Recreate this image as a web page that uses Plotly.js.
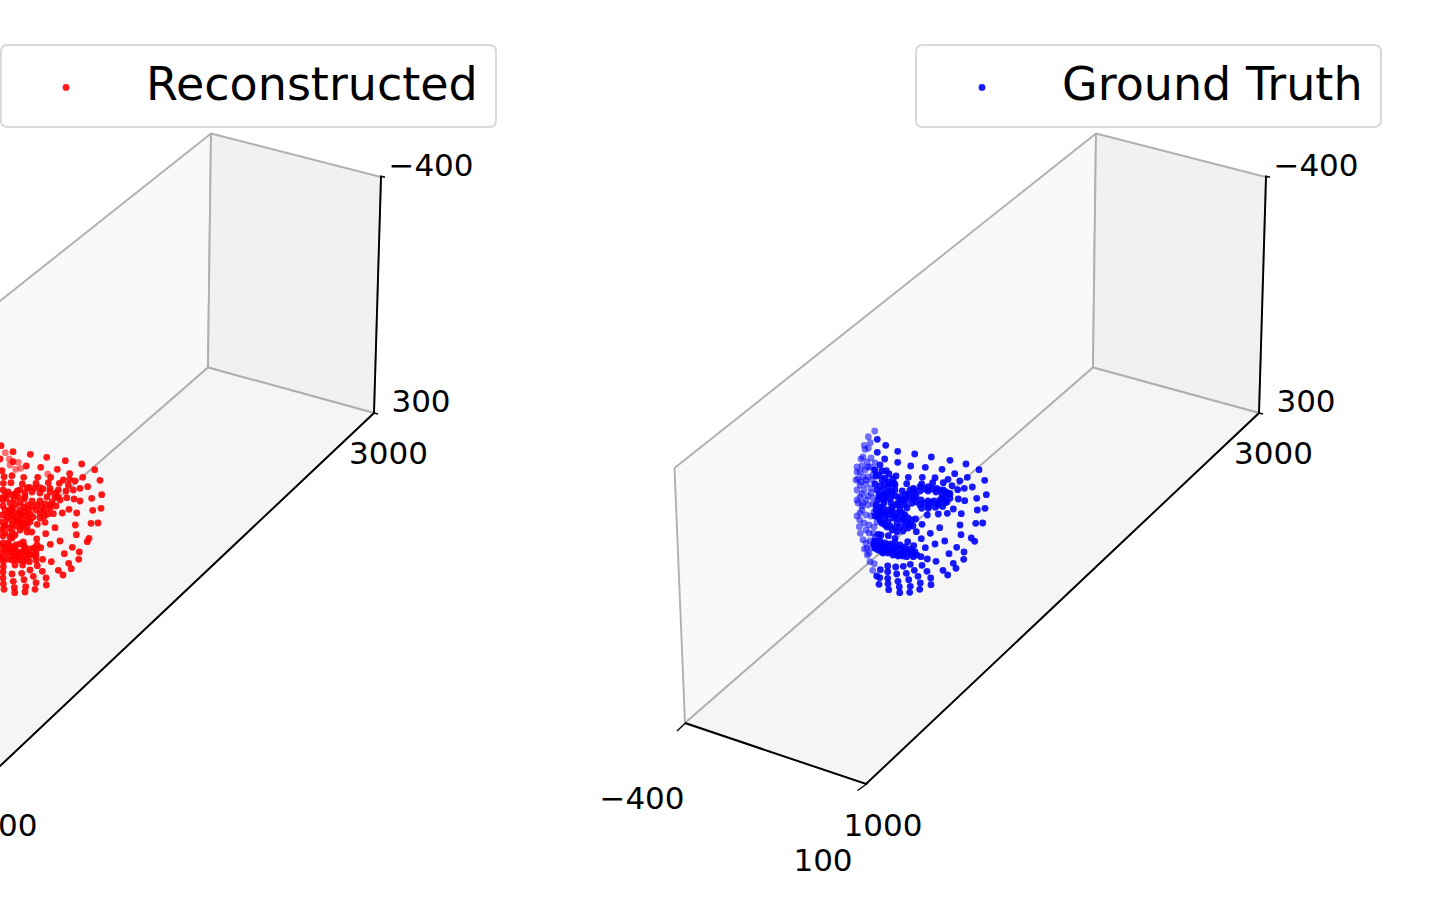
<!DOCTYPE html>
<html><head><meta charset="utf-8">
<script src="https://cdn.plot.ly/plotly-3.0.1.min.js"></script>
<style>html,body{margin:0;padding:0;background:#fff;overflow:hidden}#c{width:1435px;height:902px}</style>
</head><body><div id="c"></div>
<script>
// Projected view-plane positions of the reconstructed landmarks
const recNearX=[1,13,30.3,46.7,65.3,81.7,0,13,26.3,40.7,57.3,94.7,2,69.7,82.7,100,12,23.7,4,37.7,50.7,63.3,75,69.7,11,22.3,3.3,36,48.3,59.3,68.3,80,87.7,101.7,91.7,17.3,29.3,40,50,58.3,66,73.3,66.7,74,80,101,92.7,69,53.3,62.3,76.7,20,27,35,43,50,55,52,45,37,28,20,14,15,25,32,40,47,40,32,24,3,8,0,6,10,3,91,98,75.3,55,37.3,45,44.3,76.3,45.7,31.7,89,87.3,60,50.3,36.7,23.3,72.3,79.3,64.3,78.7,40.7,42.7,51.3,68.7,71.3,58.3,63,37.3,42.3,46,46.3,30,33.3,36,35,21.7,24,25.7,25,12,13.3,14.3,14.7,3.3,3,3,3.3,4,15,22.7,29.3,36,3.3,0,5,10,16,22,28,34,0,6,12,18,24,30,24,16,8,34,3,12,20,27,36,37,2,8,14,20,26,28,24,18,12,6,0,4,10,16,22,27,5,12,0,10,15,17,22,5,12,20,28,36,44,50,56,40,30,20,58];
const recNearY=[445.7,451.7,454.3,457.3,460.7,464,459,461.7,466,467.3,469.3,469.7,470.7,473.7,477.3,480.3,475.7,477.3,476.7,477.3,477.3,480,481,479.3,482.7,484,483.3,483.3,482.7,483.3,485,488.3,486.7,494.7,498.3,491,487.3,487.7,488.3,490,491,490,497.7,499,501,508.3,510.3,509.3,513.7,513,513,490,488,488,489,492,497,502,504,505,505,503,499,494,493,492,493,497,501,501,499,490,492,498,498,503,506,523.3,523,525,527.7,524.3,522.3,516,534.7,533.7,532,538.3,541.7,541,544.3,539,542,547.3,552,553.7,559.3,547.7,559.3,561.7,563.3,568.7,570.3,575,565.7,571.3,578,585,570,576.3,582.7,589.3,573.3,579.7,586.7,592,574,581.3,587.7,592.7,566.7,572,578,584,589.3,565,565,561.7,560,561.7,545,547,549,551,552,553,555,552,553,556,557,556,549,546,545,543,548,558,560,560,559,552,545,515,513,512,515,516,520,523,522,520,520,522,527,528,526,527,527,533,532,530,537,535,520,523,510,508,510,510,510,510,508,506,513,514,513,497];
const recCoreX=[5,12,18,25,10,15,24,32,42,50,3,12,25,33,40,48,5,12,20,27,15,22,30,8,3,12,56,60,5,10,15,20,25,30,36,3,10,20,25,14,0,8,16,24];
const recCoreY=[495,495,497,497,510,505,507,507,507,505,500,515,512,517,518,514,525,525,530,532,517,518,522,517,536,538,493,500,550,552,554,553,551,555,556,543,546,544,548,548,557,559,559,561];
const recFarX=[5.3,9.3,18.3,10,20.7,15.7,47.7];
const recFarY=[452.7,459,462.3,465,468.3,469.3,474];

// Projected view-plane positions of the ground-truth landmarks
const gtNearX=[877.3,885.7,897.7,877.3,914.7,931.3,884.7,897.7,950,966,910.7,925.3,942,886.3,979,954.7,967.3,896,908.3,922.3,935,948,959.7,984.7,906.7,894.3,921.7,932.7,943.3,952,972.3,957.7,964.3,902.3,986.3,976.7,958.3,964.7,985,977.3,953.3,913.3,920,928.3,936.7,943.3,949,950,945,938.3,928.3,920,911.7,906.7,908.3,914,920,928,936,942,945,940,934,928,921,914,911,885,889,888,883,877,879,875,882,889,893,895,892,886,879,880,886,892,899,905,900,878,882,887,892,897,903,908,913,907,902,897,888,885,882,888,883,892,900,907,895,905,876,884,891,898,904,876.7,880,885,890,895,900,906.7,913.3,916.7,911.7,905,900,895,888.3,881.7,875,878.3,893.3,886.7,881.7,875,961.3,947.3,938.3,935.3,942.7,927.3,921.7,928.3,975.7,982.7,960,939.7,922,915.7,961,971.3,974.7,930.3,916.3,921.3,944.7,935,907.7,913.7,925.3,956.7,964,949,963.7,921,927.3,936,953.3,956,943,947.7,922,927,930.7,931,914.3,918,920.3,919.7,910.3,906.3,908.7,910.3,909.7,903.3,896.7,898,899.3,899.7,895.7,887.7,887.7,888,888.7,887.7,880.3,879.7,879,876.7,878.3,881,895,888.3];
const gtNearY=[439.3,445.3,451.3,452.3,454,457,459,462.3,460.3,464,466,467.3,469.3,470.7,469.7,473.7,477.3,476,477.3,477.3,477.7,479.3,481,480.3,483.7,483.3,484,482.7,482.7,485.7,487,489.7,488.3,491,494.7,498.3,499,500.7,508.3,510,509,488.3,486.7,486.7,488.3,490,493.3,498.3,502.7,505,506,505,503.3,499.3,494,493,491,491,492,494,497,500,501,501,500,499,497,478,482,487,490,490,475,470,471,474,479,485,491,494,495,497,497,495,497,505,505,517,523,527,530,532,531,528,526,522,520,523,522,518,515,515,508,510,510,508,516,515,505,503,503,503,500,546.7,548.3,550,551.7,553.3,555,556.7,556.7,555,551.7,550,548.3,546.7,545.7,544.3,541,542.3,550,547.7,551.7,548.3,513.7,513.3,514,507.3,506.7,515,508.3,508.3,523.3,523,525,527.7,524.3,519,534.7,538,541.3,533.3,531.7,538.7,541,544,541.7,545.7,547.7,547.3,552,553.7,559.3,556.7,559,561.3,563.3,568.3,570.3,575,565.3,571.3,578,584.7,570.3,576.3,583,589.3,564.3,573.3,579.7,586.3,592.3,566.3,574,581.3,587,592.7,567,571.7,578.3,583.7,589.7,566,569.7,577.7,584.3,576,534.3,535,538.3,535.7];
const gtCoreX=[880,876,882,885,880,875,891,895,889,884,878,884,890,895,900,896,892,888,880,876,881,886,891,897,902,880,885,890,895,900,905,910,893,898,903,908,912,875,879,878,883,888,892,897,902,907,912,903,898,893,888,883,878,874,880,885,890,895,900,905,910,915,916,910,925,932,940,946,947,942,924,916,931,938,914,905,903,950];
const gtCoreY=[465,476,480,484,486,484,484,490,492,495,500,500,499,496,500,505,507,510,507,510,512,513,513,513,513,520,525,526,528,527,525,524,518,518,518,518,520,516,512,546,547,549,552,551,552,553,554,556,556,555,553,553,550,545,541,543,544,543,545,547,549,552,496,490,489,489,490,492,502,498,503,502,503,503,490,495,500,494];
const gtFarX=[874.7,868.3,870.3,864.3,868.3,865,863,867,860,865,870,858,863,868,873,866,871,864,860,857,856,857,860,863,858,866,862,871,874,877,882,873.3,875,859.3,860.3,863,859.7,866,864.3,866.7,867.3,869,870,872.7,874.3,873.3,861,871,875,857,862,868,874,861,866,872,862,868,873,857,862,868,873,860,866,871,857,864,869,874,869,875,870,866,871];
const gtFarY=[431,436.7,442.7,445.3,448.3,449.3,457,462,472,470,467,479,477,477,475,484,488,490,485,472,480,490,497,503,503,500,510,493,512,522,523,543.3,541,526.7,533.3,539.7,520,530,549,548.3,555,553.3,561.7,570.3,563.7,533.3,459,458,463,467,466,467,470,482,480,480,494,496,498,500,506,505,504,513,515,516,516,523,525,527,533,537,541,543,548];

// One 3-D box frame, shared by both panels, in blue-panel page units
const leftPaneX=[674.5,1096,1093,685,674.5], leftPaneY=[468,133.5,367.5,723,468];
const backPaneX=[1096,1266,1259,1093,1096], backPaneY=[133.5,177,413,367.5,133.5];
const floorPaneX=[1093,1259,866,685,1093], floorPaneY=[367.5,413,784,723,367.5];
const axisLineX=[1266,1259,866,685], axisLineY=[177,413,784,723];
const tickX=[1265,1270,null,1259,1263,null,857.5,868,null,677,685.5], tickY=[176,177.3,null,413,414,null,790.5,783,null,731,723];
const tickLabels=['\u2212400','300','3000','1000','100','\u2212400'];
const tickLabelX=[1316,1306,1273.5,883,823,642], tickLabelY=[168,404,456,828,863,801];
const redTickLabelCount=4; // the last two labels of the left panel fall entirely off the page

const GREY='#b0b0b0', FONT='"DejaVu Sans", sans-serif';
function frame(xa,ya,nLabels){
  const mk=(x,y,fill)=>({type:'scatter',mode:'lines',x,y,xaxis:xa,yaxis:ya,fill:'toself',fillcolor:fill,
    line:{color:GREY,width:1.9},showlegend:false,hoverinfo:'skip'});
  return [mk(leftPaneX,leftPaneY,'#f9f9f9'),mk(backPaneX,backPaneY,'#f1f1f1'),mk(floorPaneX,floorPaneY,'#f5f5f5'),
   {type:'scatter',mode:'lines',x:axisLineX,y:axisLineY,xaxis:xa,yaxis:ya,line:{color:'#000',width:1.9},showlegend:false,hoverinfo:'skip'},
   {type:'scatter',mode:'lines',x:tickX,y:tickY,xaxis:xa,yaxis:ya,line:{color:'#000',width:1.4},showlegend:false,hoverinfo:'skip',connectgaps:false},
   {type:'scatter',mode:'text',x:tickLabelX.slice(0,nLabels),y:tickLabelY.slice(0,nLabels),text:tickLabels.slice(0,nLabels),textposition:'middle center',xaxis:xa,yaxis:ya,
    textfont:{family:FONT,size:31,color:'#000'},showlegend:false,hoverinfo:'skip'}];
}
function cloud(name,color,nx,ny,fx,fy,legend){
  return [
   {type:'scatter',mode:'markers',x:fx,y:fy,xaxis:'x2',yaxis:'y2',marker:{color,size:6.8,opacity:0.55,line:{width:0}},showlegend:false,hoverinfo:'skip'},
   {type:'scatter',mode:'markers',name,x:nx,y:ny,xaxis:'x2',yaxis:'y2',marker:{color,size:6.8,opacity:0.9,line:{width:0}},legend,showlegend:true}
  ];
}
const data=[...frame('x','y',redTickLabelCount),...frame('x2','y2',tickLabels.length),
  ...cloud('\u00a0Reconstructed','#ff0000',recNearX.concat(recCoreX),recNearY.concat(recCoreY),recFarX,recFarY,'legend'),
  ...cloud('\u00a0Ground Truth','#0000ff',gtNearX.concat(gtCoreX),gtNearY.concat(gtCoreY),gtFarX,gtFarY,'legend2')];
const hidden={visible:false,fixedrange:true};
function box(l,r){const t=45,b=127,c=7;
  return {type:'path',xref:'paper',yref:'paper',layer:'below',line:{color:'#d9d9d9',width:2},fillcolor:'#fff',
    path:`M${(l+c)/1435},${1-t/902} L${(r-c)/1435},${1-t/902} Q${r/1435},${1-t/902} ${r/1435},${1-(t+c)/902} L${r/1435},${1-(b-c)/902} Q${r/1435},${1-b/902} ${(r-c)/1435},${1-b/902} L${(l+c)/1435},${1-b/902} Q${l/1435},${1-b/902} ${l/1435},${1-(b-c)/902} L${l/1435},${1-(t+c)/902} Q${l/1435},${1-t/902} ${(l+c)/1435},${1-t/902} Z`};
}
const legendBase={bgcolor:'rgba(0,0,0,0)',borderwidth:0,font:{family:FONT,size:46,color:'#000'},itemwidth:121,xanchor:'left',yanchor:'top',y:1-46/902,itemclick:false,itemdoubleclick:false};
const layout={width:1435,height:902,margin:{l:0,r:0,t:0,b:0},paper_bgcolor:'#fff',plot_bgcolor:'rgba(0,0,0,0)',showlegend:true,
  xaxis:{...hidden,range:[885,2320]},yaxis:{...hidden,range:[902,0]},
  xaxis2:{...hidden,range:[0,1435],overlaying:'x'},yaxis2:{...hidden,range:[902,0],overlaying:'y'},
  legend:{...legendBase,x:0.5/1435},legend2:{...legendBase,x:916.5/1435},
  shapes:[box(0.8,496),box(916,1381)],hovermode:false};
Plotly.newPlot('c',data,layout,{displayModeBar:false,staticPlot:true}).then(()=>{
  document.querySelectorAll('.legendsymbols').forEach(g=>g.setAttribute('transform','translate(0,5)'));
});
</script></body></html>
